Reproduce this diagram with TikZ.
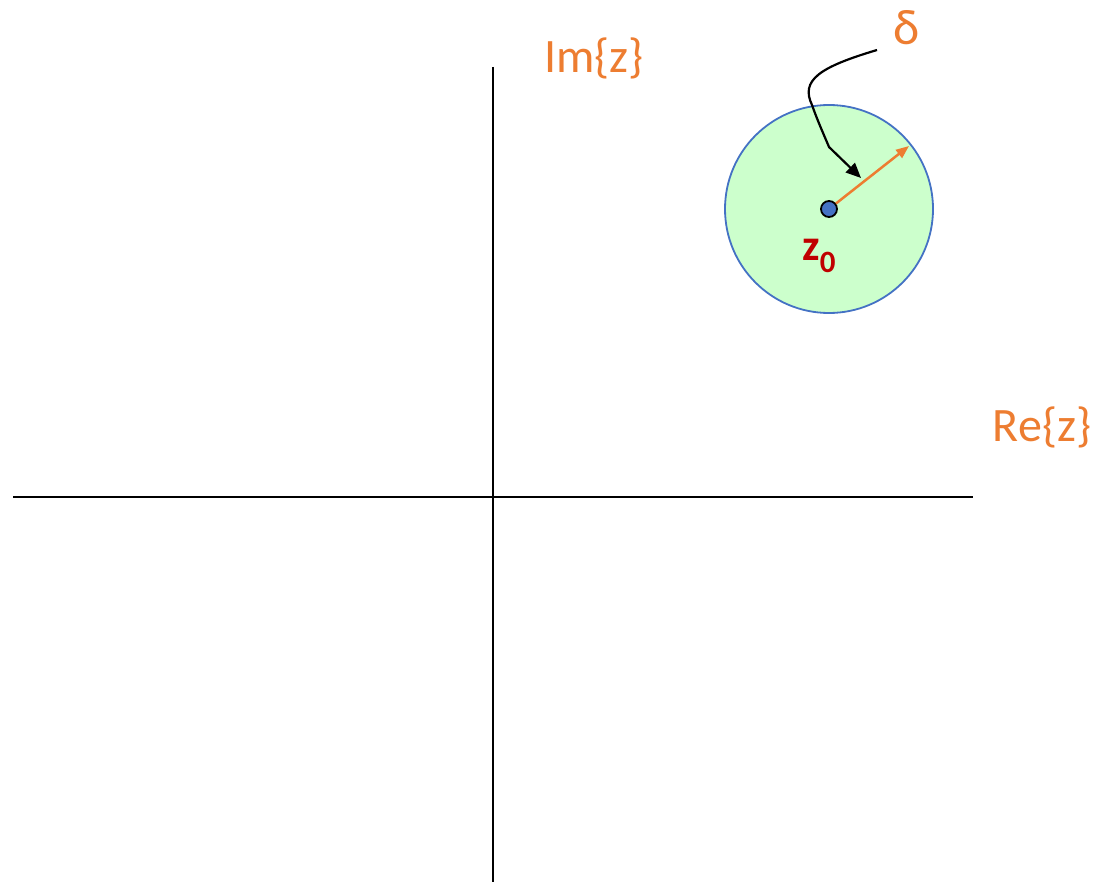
\documentclass[tikz,border=0pt]{standalone}
\usepackage{fontspec}
\setmainfont{Carlito}
\usetikzlibrary{arrows.meta}
\definecolor{axorange}{HTML}{ED7D31}
\definecolor{diskfill}{HTML}{CCFFCC}
\definecolor{diskline}{HTML}{4472C4}
\definecolor{zred}{HTML}{C00000}
\tikzset{
  axis/.style={line width=2.2pt, black},
  axlabel/.style={text=axorange, font=\fontsize{48}{56}\selectfont, inner sep=0pt},
  disk/.style={circle, draw=diskline, fill=diskfill, line width=1.8pt, minimum size=208pt, inner sep=0pt},
  dot/.style={circle, draw=black, fill=diskline, line width=1.8pt, minimum size=16pt, inner sep=0pt},
  radius arrow/.style={axorange, line width=2.5pt, -{Triangle[length=13pt,width=10pt]}},
  pointer/.style={black, line width=2.2pt, -{Triangle[length=15pt,width=13pt]}},
}
\begin{document}
\begin{tikzpicture}[x=1pt,y=-1pt]
\useasboundingbox (0,0) rectangle (1094,882);
% axes
\coordinate (xl) at (13,497);
\coordinate (xr) at (973,497);
\coordinate (yt) at (493,67);
\coordinate (yb) at (493,882);
\draw[axis] (xl) -- (xr);
\draw[axis] (yt) -- (yb);
\node[axlabel] (im) at (594,58) {Im\{z\}};
\node[axlabel] (re) at (1042,427) {Re\{z\}};
% disk
\node[disk] (disk) at (829,209) {};
\node[dot] (z0) at (829,209) {};
\coordinate (rad) at (909,146);
\draw[radius arrow] (z0) -- (rad);
\node[text=zred, font=\fontsize{44}{48}\selectfont\bfseries, inner sep=0pt] (z0lab) at (819,256) {z\raisebox{-0.28em}{\fontsize{31}{33}\selectfont 0}};
% delta
\node[text=axorange, font=\fontsize{50}{56}\selectfont, inner sep=0pt] (delta) at (907,28) {δ};
\coordinate (dstart) at (877,50);
\coordinate (dbend) at (829,147);
\coordinate (dtip) at (861,178);
\draw[pointer] (dstart) .. controls (820,67) and (800,80) .. (812,105) .. controls (818,122) and (824,135) .. (dbend) -- (dtip);
\end{tikzpicture}
\end{document}
